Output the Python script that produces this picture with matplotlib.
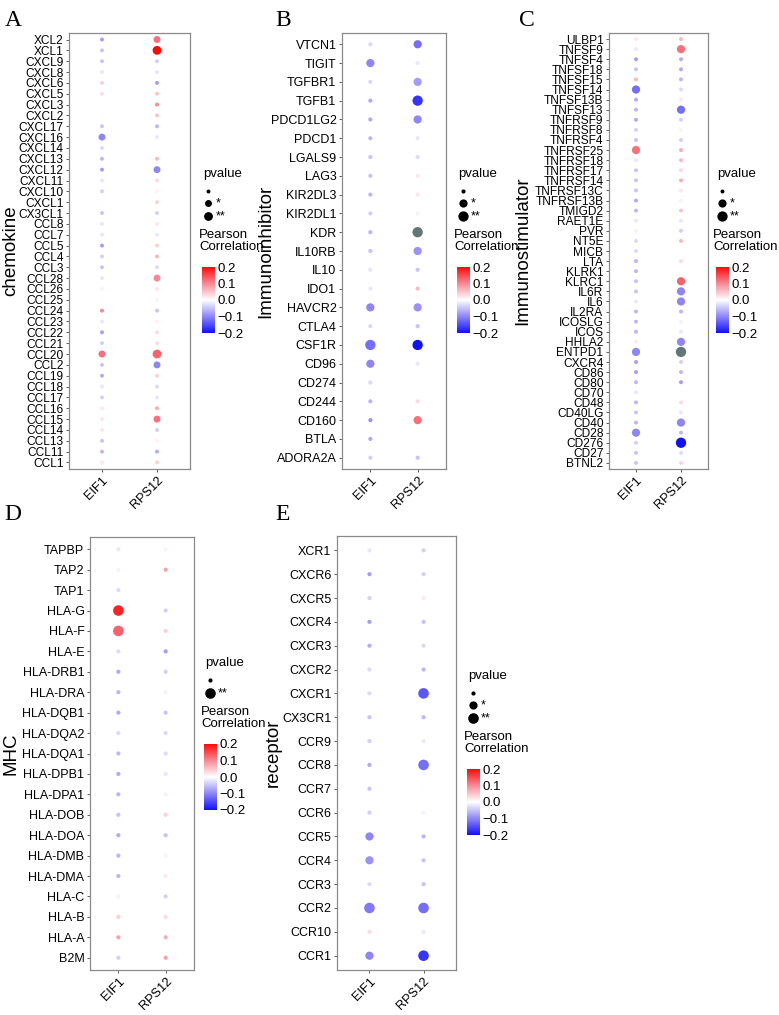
# Correlation bubble plots: EIF1 / RPS12 vs immune-related genes
import numpy as np
import matplotlib
matplotlib.use('Agg')
import matplotlib.pyplot as plt
from matplotlib.colors import LinearSegmentedColormap, Normalize
from matplotlib.cm import ScalarMappable

plt.rcParams['font.family'] = ['Liberation Sans', 'DejaVu Sans']

W, H = 779, 1015
cols = ['EIF1', 'RPS12']
sig_labels = ['', '*', '**']

# ---- A: chemokine ----
chemo_genes = ['XCL2', 'XCL1', 'CXCL9', 'CXCL8', 'CXCL6', 'CXCL5', 'CXCL3', 'CXCL2', 'CXCL17',
               'CXCL16', 'CXCL14', 'CXCL13', 'CXCL12', 'CXCL11', 'CXCL10', 'CXCL1', 'CX3CL1',
               'CCL8', 'CCL7', 'CCL5', 'CCL4', 'CCL3', 'CCL28', 'CCL26', 'CCL25', 'CCL24', 'CCL23',
               'CCL22', 'CCL21', 'CCL20', 'CCL2', 'CCL19', 'CCL18', 'CCL17', 'CCL16', 'CCL15',
               'CCL14', 'CCL13', 'CCL11', 'CCL1']
chemo_eif1 = [-0.08, -0.05, -0.05, -0.02, 0.04, 0.03, 0.0, 0.0, -0.05, -0.1, -0.03, -0.06, -0.08,
              -0.02, -0.04, 0.0, -0.05, -0.02, -0.02, -0.08, -0.04, -0.05, -0.02, 0.01, 0.0, 0.1,
              -0.02, -0.08, -0.04, 0.12, -0.05, -0.07, -0.02, -0.04, 0.02, 0.02, 0.02, -0.05, -0.06, 0.02]
chemo_rps12 = [0.12, 0.2, -0.04, -0.02, -0.08, 0.05, 0.1, 0.05, -0.06, -0.02, 0.0, 0.06, -0.1,
               0.03, 0.01, 0.04, -0.04, 0.02, -0.02, 0.04, 0.06, -0.03, 0.1, 0.02, 0.01, -0.05,
               0.01, 0.03, 0.03, 0.13, -0.1, 0.04, -0.03, -0.02, 0.07, 0.12, -0.04, 0.01, -0.07, 0.04]
chemo_p_eif1 = [0, 0, 0, 0, 0, 0, 0, 0, 0, 1, 0, 0, 0, 0, 0, 0, 0, 0, 0, 0, 0, 0, 0, 0, 0, 0, 0,
                0, 0, 1, 0, 0, 0, 0, 0, 0, 0, 0, 0, 0]
chemo_p_rps12 = [1, 2, 0, 0, 0, 0, 0, 0, 0, 0, 0, 0, 1, 0, 0, 0, 0, 0, 0, 0, 0, 0, 1, 0, 0, 0, 0,
                 0, 0, 2, 1, 0, 0, 0, 0, 1, 0, 0, 0, 0]

# ---- B: immunoinhibitor ----
inhib_genes = ['VTCN1', 'TIGIT', 'TGFBR1', 'TGFB1', 'PDCD1LG2', 'PDCD1', 'LGALS9', 'LAG3',
               'KIR2DL3', 'KIR2DL1', 'KDR', 'IL10RB', 'IL10', 'IDO1', 'HAVCR2', 'CTLA4', 'CSF1R',
               'CD96', 'CD274', 'CD244', 'CD160', 'BTLA', 'ADORA2A']
inhib_eif1 = [-0.03, -0.1, -0.03, -0.07, -0.07, -0.06, -0.05, -0.05, -0.06, -0.04, -0.06, -0.05,
              -0.02, -0.02, -0.1, -0.03, -0.12, -0.1, -0.03, -0.06, -0.09, -0.07, -0.04]
inhib_rps12 = [-0.12, -0.02, -0.08, -0.17, -0.1, -0.02, -0.03, 0.02, 0.02, -0.01, -0.25, -0.09,
               -0.05, 0.06, -0.09, -0.05, -0.2, -0.02, 0.0, 0.03, 0.12, 0.0, -0.05]
inhib_p_eif1 = [0, 1, 0, 0, 0, 0, 0, 0, 0, 0, 0, 0, 0, 0, 1, 0, 2, 1, 0, 0, 0, 0, 0]
inhib_p_rps12 = [1, 0, 1, 2, 1, 0, 0, 0, 0, 0, 2, 1, 0, 0, 1, 0, 2, 0, 0, 0, 1, 0, 0]

# ---- C: immunostimulator ----
stim_genes = ['ULBP1', 'TNFSF9', 'TNFSF4', 'TNFSF18', 'TNFSF15', 'TNFSF14', 'TNFSF13B', 'TNFSF13',
              'TNFRSF9', 'TNFRSF8', 'TNFRSF4', 'TNFRSF25', 'TNFRSF18', 'TNFRSF17', 'TNFRSF14',
              'TNFRSF13C', 'TNFRSF13B', 'TMIGD2', 'RAET1E', 'PVR', 'NT5E', 'MICB', 'LTA', 'KLRK1',
              'KLRC1', 'IL6R', 'IL6', 'IL2RA', 'ICOSLG', 'ICOS', 'HHLA2', 'ENTPD1', 'CXCR4', 'CD86',
              'CD80', 'CD70', 'CD48', 'CD40LG', 'CD40', 'CD28', 'CD276', 'CD27', 'BTNL2']
stim_eif1 = [0.02, -0.02, -0.08, -0.05, 0.06, -0.12, -0.07, -0.06, -0.07, -0.04, -0.05, 0.12,
             -0.02, -0.05, -0.05, -0.05, -0.07, -0.06, -0.02, -0.01, -0.03, -0.03, -0.06, -0.06,
             -0.05, -0.05, -0.02, -0.06, -0.06, -0.06, 0.02, -0.1, -0.08, -0.08, -0.06, -0.02,
             -0.06, -0.05, -0.06, -0.1, -0.04, -0.05, -0.05]
stim_rps12 = [0.06, 0.12, -0.07, -0.07, -0.06, -0.03, 0.02, -0.12, -0.04, 0.01, -0.04, 0.07,
              0.06, 0.03, 0.07, 0.02, -0.01, 0.05, -0.02, -0.04, 0.06, 0.0, 0.03, 0.0, 0.13,
              -0.1, -0.1, -0.06, -0.01, -0.02, -0.1, -0.25, -0.04, -0.06, -0.08, 0.0, 0.03,
              -0.02, -0.1, -0.06, -0.2, -0.03, 0.04]
stim_p_eif1 = [0, 0, 0, 0, 0, 1, 0, 0, 0, 0, 0, 1, 0, 0, 0, 0, 0, 0, 0, 0, 0, 0, 0, 0, 0, 0, 0,
               0, 0, 0, 0, 1, 0, 0, 0, 0, 0, 0, 0, 1, 0, 0, 0]
stim_p_rps12 = [0, 1, 0, 0, 0, 0, 0, 1, 0, 0, 0, 0, 0, 0, 0, 0, 0, 0, 0, 0, 0, 0, 0, 0, 1, 1, 1,
                0, 0, 0, 1, 2, 0, 0, 0, 0, 0, 0, 1, 0, 2, 0, 0]

# ---- D: MHC ----
mhc_genes = ['TAPBP', 'TAP2', 'TAP1', 'HLA-G', 'HLA-F', 'HLA-E', 'HLA-DRB1', 'HLA-DRA', 'HLA-DQB1',
             'HLA-DQA2', 'HLA-DQA1', 'HLA-DPB1', 'HLA-DPA1', 'HLA-DOB', 'HLA-DOA', 'HLA-DMB',
             'HLA-DMA', 'HLA-C', 'HLA-B', 'HLA-A', 'B2M']
mhc_eif1 = [-0.02, -0.01, -0.03, 0.18, 0.13, -0.03, -0.07, -0.06, -0.07, -0.03, -0.06, -0.07,
            -0.06, -0.05, -0.07, -0.06, -0.06, -0.01, 0.04, 0.08, -0.04]
mhc_rps12 = [0.01, 0.08, 0.0, -0.04, 0.04, -0.08, -0.04, -0.01, -0.05, -0.03, -0.03, -0.02, -0.01,
             0.04, -0.05, 0.01, 0.02, -0.04, 0.03, 0.07, 0.08]
mhc_p_eif1 = [0, 0, 0, 2, 2, 0, 0, 0, 0, 0, 0, 0, 0, 0, 0, 0, 0, 0, 0, 0, 0]
mhc_p_rps12 = [0] * 21

# ---- E: receptor ----
rec_genes = ['XCR1', 'CXCR6', 'CXCR5', 'CXCR4', 'CXCR3', 'CXCR2', 'CXCR1', 'CX3CR1', 'CCR9', 'CCR8',
             'CCR7', 'CCR6', 'CCR5', 'CCR4', 'CCR3', 'CCR2', 'CCR10', 'CCR1']
rec_eif1 = [-0.02, -0.08, -0.04, -0.08, -0.07, -0.03, -0.03, -0.05, -0.04, -0.07, -0.05, -0.04,
            -0.1, -0.09, -0.03, -0.11, 0.03, -0.1]
rec_rps12 = [-0.04, -0.04, 0.02, -0.05, -0.03, -0.06, -0.14, -0.06, -0.02, -0.12, 0.0, -0.01,
             -0.06, -0.05, -0.05, -0.12, -0.02, -0.17]
rec_p_eif1 = [0, 0, 0, 0, 0, 0, 0, 0, 0, 0, 0, 0, 1, 1, 0, 2, 0, 1]
rec_p_rps12 = [0, 0, 0, 0, 0, 0, 2, 0, 0, 2, 0, 0, 0, 0, 0, 2, 0, 2]

# colour scale (blue - white - red, limits -0.2..0.2, out of range -> grey)
cmap = LinearSegmentedColormap.from_list(
    'bwr2', [(0.0, '#1010FF'), (0.25, '#8E86F6'), (0.5, '#FFFFFF'), (0.75, '#F78A96'), (1.0, '#FF0A0A')])
cmap.set_under('#627676')
cmap.set_over('#627676')
norm = Normalize(-0.2, 0.2)

fig = plt.figure(figsize=(W / 100, H / 100), dpi=100)
ov = fig.add_axes([0, 0, 1, 1])
ov.set_xlim(0, W)
ov.set_ylim(H, 0)
ov.axis('off')

panels = [
    dict(letter='A', genes=chemo_genes, eif=chemo_eif1, rps=chemo_rps12, pe=chemo_p_eif1, pr=chemo_p_rps12,
         box=(69, 33, 190, 469), title='chemokine', tx=11, lpos=(5, 26), leg=(203, 174),
         sizes=[8, 25, 40], fs=8.6, sig=[0, 1, 2]),
    dict(letter='B', genes=inhib_genes, eif=inhib_eif1, rps=inhib_rps12, pe=inhib_p_eif1, pr=inhib_p_rps12,
         box=(342, 33, 446, 469), title='Immunoinhibitor', tx=266, lpos=(275, 26), leg=(458, 174),
         sizes=[9, 35, 55], fs=9, sig=[0, 1, 2]),
    dict(letter='C', genes=stim_genes, eif=stim_eif1, rps=stim_rps12, pe=stim_p_eif1, pr=stim_p_rps12,
         box=(609, 33, 708, 469), title='Immunostimulator', tx=523, lpos=(519, 26), leg=(717, 174),
         sizes=[8, 35, 55], fs=8.6, sig=[0, 1, 2]),
    dict(letter='D', genes=mhc_genes, eif=mhc_eif1, rps=mhc_rps12, pe=mhc_p_eif1, pr=mhc_p_rps12,
         box=(90, 537, 194, 970), title='MHC', tx=11, lpos=(4, 520), leg=(205, 663),
         sizes=[9, 35, 58], fs=9, sig=[0, 2]),
    dict(letter='E', genes=rec_genes, eif=rec_eif1, rps=rec_rps12, pe=rec_p_eif1, pr=rec_p_rps12,
         box=(337, 536, 456, 970), title='receptor', tx=273, lpos=(275, 520), leg=(468, 676),
         sizes=[9, 35, 58], fs=9, sig=[0, 1, 2]),
]

for p in panels:
    x0, y0, x1, y1 = p['box']
    ax = fig.add_axes([x0 / W, 1 - y1 / H, (x1 - x0) / W, (y1 - y0) / H])
    n = len(p['genes'])
    ypos = np.arange(n)[::-1]
    for j, (vals, ps) in enumerate([(p['eif'], p['pe']), (p['rps'], p['pr'])]):
        ax.scatter(np.full(n, j + 1), ypos, s=[p['sizes'][k] for k in ps], c=vals,
                   cmap=cmap, norm=norm, linewidths=0, zorder=3)
    ax.set_xlim(0.4, 2.6)
    ax.set_ylim(-0.6, n - 0.4)
    ax.set_yticks(ypos)
    ax.set_yticklabels(p['genes'], fontsize=p['fs'])
    ax.set_xticks([1, 2])
    ax.set_xticklabels(cols, rotation=45, ha='right', va='top', rotation_mode='anchor', fontsize=9.2)
    for sp in ax.spines.values():
        sp.set_color('#8a8a8a')
        sp.set_linewidth(0.9)
    ax.tick_params(color='#444444', length=2.5, width=0.6, pad=1.5)

    # panel letter and y title
    ov.text(p['lpos'][0], p['lpos'][1], p['letter'], family='Liberation Serif', fontsize=17,
            ha='left', va='baseline')
    ov.text(p['tx'], (y0 + y1) / 2, p['title'], rotation=90, fontsize=13.5, ha='center', va='center')

    # size legend
    lx, ly = p['leg']
    ov.text(lx, ly, 'pvalue', fontsize=9.5, ha='left', va='center')
    dy = [17, 29, 42] if len(p['sig']) == 3 else [17, 30]
    for k, off in zip(p['sig'], dy):
        ov.scatter([lx + 5], [ly + off], s=p['sizes'][k], c='black', linewidths=0)
        ov.text(lx + 13, ly + off, sig_labels[k], fontsize=9, ha='left', va='center')
    top = ly + dy[-1] + 19
    ov.text(lx - 4, top, 'Pearson', fontsize=9.5, ha='left', va='center')
    ov.text(lx - 4, top + 12, 'Correlation', fontsize=9.5, ha='left', va='center')
    cb_top = top + 32
    cax = fig.add_axes([(lx - 1) / W, 1 - (cb_top + 66) / H, 13 / W, 66 / H])
    cb = fig.colorbar(ScalarMappable(norm=norm, cmap=cmap), cax=cax, ticks=[-0.2, -0.1, 0, 0.1, 0.2])
    cb.outline.set_visible(False)
    cb.ax.set_yticklabels(['\u22120.2', '\u22120.1', '0.0', '0.1', '0.2'], fontsize=9.5)
    cb.ax.tick_params(length=0, pad=2)

fig.savefig('out.png', dpi=100)
